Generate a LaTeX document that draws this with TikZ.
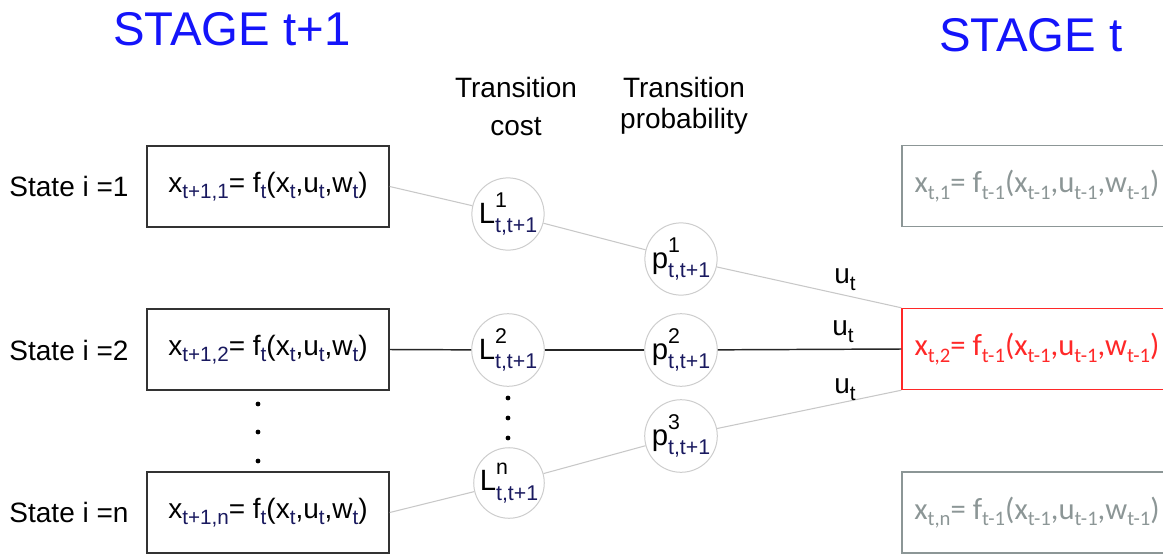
\documentclass[tikz,border=0pt]{standalone}
\usepackage{fontspec}
\setmainfont{Liberation Sans}
\newfontfamily\calib{Carlito}
\definecolor{lgray}{RGB}{200,200,200}
\definecolor{cgray}{RGB}{205,205,205}
\definecolor{rgray}{RGB}{140,150,150}
\definecolor{navy}{RGB}{25,25,95}
\definecolor{myred}{RGB}{255,40,40}
\definecolor{myblue}{RGB}{20,20,250}
\newcommand\sbs[1]{\raisebox{-0.45ex}{\fontsize{15.5}{15.5}\selectfont #1}}
\newcommand\nsb[1]{\raisebox{-0.45ex}{\fontsize{15.5}{15.5}\selectfont\color{navy}#1}}
\newcommand\supsub[2]{\rlap{\raisebox{1.05ex}{\fontsize{16}{16}\selectfont #1}}\raisebox{-0.6ex}{\fontsize{16}{16}\selectfont\color{navy}#2}}
\begin{document}
\begin{tikzpicture}[x=0.75pt,y=-0.75pt,
  lbox/.style={draw=black!80, line width=1.1pt, minimum width=181.5pt, minimum height=60.75pt, inner sep=0pt, font=\fontsize{21}{25}\selectfont},
  rbox/.style={draw=rgray, line width=1.1pt, minimum width=202.5pt, minimum height=60.75pt, inner sep=0pt, text=rgray, font=\calib\fontsize{23}{27}\selectfont},
  redbox/.style={rbox, draw=myred, text=myred},
  circ/.style={circle, draw=cgray, line width=0.75pt, minimum size=52.5pt, inner sep=0pt, font=\fontsize{22}{26}\selectfont},
  lab/.style={font=\fontsize{21}{25}\selectfont},
  title/.style={font=\fontsize{35.5}{40}\selectfont, text=myblue},
  gline/.style={draw=lgray, line width=0.8pt},
  bline/.style={draw=black!85, line width=1.1pt},
  dotc/.style={circle, fill=black, inner sep=0pt, minimum size=3.6pt}
]
\useasboundingbox (0,0) rectangle (1163,554);
\clip (0,0) rectangle (1163,554);

% titles
\node[title] (st1) at (232,29) {STAGE t+1};
\node[title] (st0) at (1031,35) {STAGE t};
\node[lab, anchor=base] (tc1) at (516,97) {Transition};
\node[lab, anchor=base] (tc2) at (516,135) {cost};
\node[lab, anchor=base] (tp1) at (684,97) {Transition};
\node[lab, anchor=base] (tp2) at (684,128) {probability};

% state labels
\node[lab] (s1) at (69,186) {State i =1};
\node[lab] (s2) at (69,350) {State i =2};
\node[lab] (sn) at (69,512) {State i =n};

% left boxes
\node[lbox] (b1) at (268,186.5) {x\nsb{t+1,1}= f\nsb{t}(x\nsb{t},u\nsb{t},w\nsb{t})};
\node[lbox] (b2) at (268,349.5) {x\nsb{t+1,2}= f\nsb{t}(x\nsb{t},u\nsb{t},w\nsb{t})};
\node[lbox] (bn) at (268,512.5) {x\nsb{t+1,n}= f\nsb{t}(x\nsb{t},u\nsb{t},w\nsb{t})};

% right boxes
\node[rbox] (r1) at (1037,186) {x\sbs{t,1}= f\sbs{t-1}(x\sbs{t-1},u\sbs{t-1},w\sbs{t-1})};
\node[redbox] (r2) at (1037,349) {x\sbs{t,2}= f\sbs{t-1}(x\sbs{t-1},u\sbs{t-1},w\sbs{t-1})};
\node[rbox] (rn) at (1037,512.5) {x\sbs{t,n}= f\sbs{t-1}(x\sbs{t-1},u\sbs{t-1},w\sbs{t-1})};

% circles
\node[circ] (L1) at (508,214) {L\supsub{1}{t,t+1}};
\node[circ] (L2) at (508,350) {L\supsub{2}{t,t+1}};
\node[circ] (Ln) at (509,483) {L\supsub{n}{t,t+1}};
\node[circ] (p1) at (681,259) {p\supsub{1}{t,t+1}};
\node[circ] (p2) at (681,350) {p\supsub{2}{t,t+1}};
\node[circ] (p3) at (681,436) {p\supsub{3}{t,t+1}};

% dots
\node[dotc] (d1) at (258,404) {};
\node[dotc] (d2) at (258,432) {};
\node[dotc] (d3) at (258,461) {};
\node[dotc] (e1) at (508,398) {};
\node[dotc] (e2) at (508,418) {};
\node[dotc] (e3) at (508,438) {};

% connectors
\draw[gline] (b1.east) -- (L1);
\draw[gline] (L1) -- (p1);
\draw[gline] (p1) -- (r2.north west);
\draw[bline] (b2.east) -- (L2);
\draw[bline] (L2) -- (p2);
\draw[bline] (p2) -- (r2.west);
\draw[gline] (bn.east) -- (Ln);
\draw[gline] (Ln) -- (p3);
\draw[gline] (p3) -- (r2.south west);

% u_t labels
\node[lab] (u1) at (845,280) {u\sbs{t}};
\node[lab] (u2) at (843,332) {u\sbs{t}};
\node[lab] (u3) at (845,390) {u\sbs{t}};
\end{tikzpicture}
\end{document}
